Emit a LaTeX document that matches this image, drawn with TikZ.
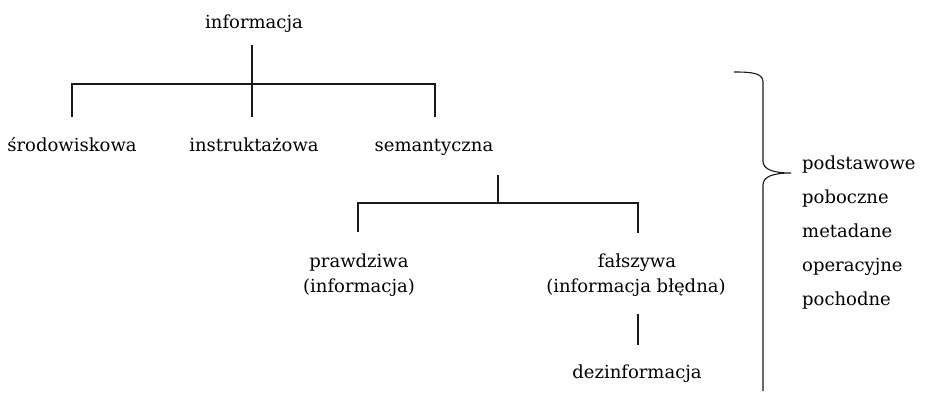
\documentclass[tikz,border=0pt]{standalone}
\usepackage{fontspec}
\setmainfont{DejaVu Serif}
\begin{document}
\begin{tikzpicture}[x=1pt,y=-1pt,
  lbl/.style={inner sep=0pt, anchor=base, font=\fontsize{18}{21}\selectfont, text=black},
  lst/.style={lbl, anchor=base west},
  tree/.style={line width=1.7pt, draw=black!90},
  brace/.style={line width=1.1pt, draw=black!90}]
\useasboundingbox (0,0) rectangle (936,401);
% nodes
\node[lbl] (inf) at (254,29) {informacja};
\node[lbl] (srod) at (72,151) {środowiskowa};
\node[lbl] (instr) at (254,151) {instruktażowa};
\node[lbl] (sem) at (434,151) {semantyczna};
\node[lbl] (praw) at (359,267) {prawdziwa};
\node[lbl] (praw2) at (359,292) {(informacja)};
\node[lbl] (fal) at (637,267) {fałszywa};
\node[lbl] (fal2) at (636,292) {(informacja błędna)};
\node[lbl] (dez) at (637,378) {dezinformacja};
\node[lst] (l1) at (802,169) {podstawowe};
\node[lst] (l2) at (802,203) {poboczne};
\node[lst] (l3) at (802,237) {metadane};
\node[lst] (l4) at (802,271) {operacyjne};
\node[lst] (l5) at (802,305) {pochodne};
% junction coordinates
\coordinate (a0) at (252,45);
\coordinate (a1) at (252,84);
\coordinate (a2) at (252,117);
\coordinate (aL) at (72,84);
\coordinate (aLb) at (72,117);
\coordinate (aR) at (435,84);
\coordinate (aRb) at (435,117);
\coordinate (b0) at (498,175);
\coordinate (b1) at (498,203);
\coordinate (bL) at (358,203);
\coordinate (bLb) at (358,232);
\coordinate (bR) at (638,203);
\coordinate (bRb) at (638,233);
\coordinate (c0) at (638,314);
\coordinate (c1) at (638,345);
% connectors
\draw[tree] (a0) -- (a2);
\draw[tree] (aLb) -- (aL) -- (aR) -- (aRb);
\draw[tree] (b0) -- (b1);
\draw[tree] (bLb) -- (bL) -- (bR) -- (bRb);
\draw[tree] (c0) -- (c1);
% brace
\coordinate (tip) at (791,173);
\draw[brace] (734,72) .. controls (752,72) and (763,73) .. (763,82) -- (763,161)
  .. controls (763,169) and (772,173) .. (tip)
  .. controls (772,173) and (763,177) .. (763,185) -- (763,391);
\end{tikzpicture}
\end{document}
